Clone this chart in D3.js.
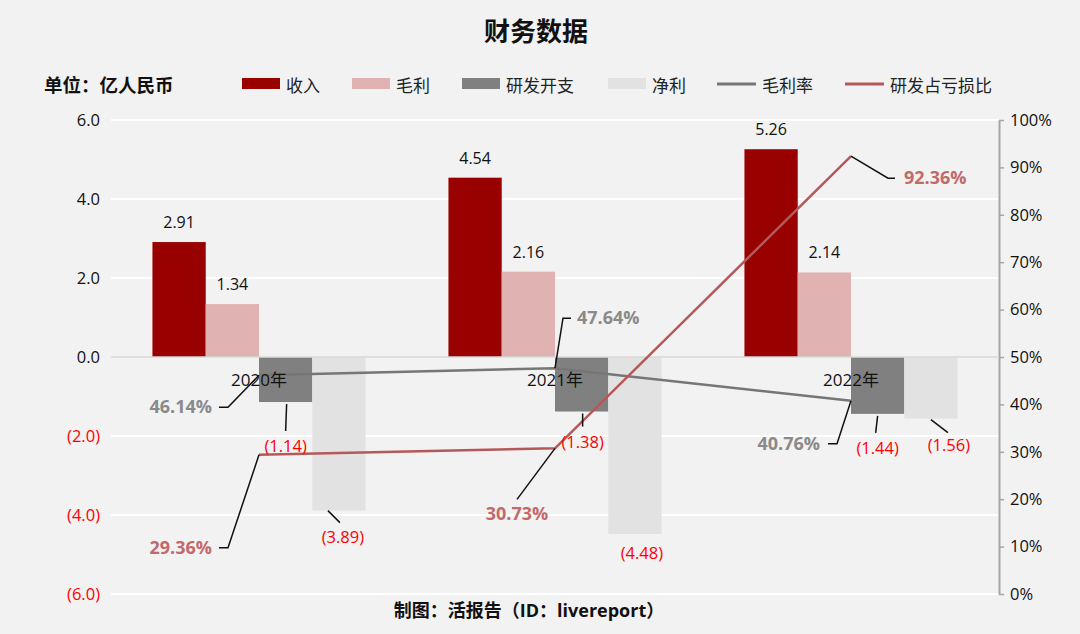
<!DOCTYPE html>
<html><head><meta charset="utf-8">
<script src="https://cdn.jsdelivr.net/npm/d3@7"></script>
<style>
html,body{margin:0;padding:0;background:#f2f2f2;}
svg{display:block;font-family:"Open Sans","Noto Sans CJK SC",sans-serif;}
</style></head>
<body><svg id="chart" width="1080" height="634"></svg>
<script>
// ---- data ----
const categories = ["2020年", "2021年", "2022年"];
const revenue = [2.91, 4.54, 5.26];
const grossProfit = [1.34, 2.16, 2.14];
const rdExpense = [-1.14, -1.38, -1.44];
const netProfit = [-3.89, -4.48, -1.56];
const grossMargin = [0.4614, 0.4764, 0.4076];
const rdLossRatio = [0.2936, 0.3073, 0.9236];
const leftTicks = [-6, -4, -2, 0, 2, 4, 6];
const rightTicks = [0, 0.1, 0.2, 0.3, 0.4, 0.5, 0.6, 0.7, 0.8, 0.9, 1.0];
const seriesNames = ["收入", "毛利", "研发开支", "净利"];
const lineNames = ["毛利率", "研发占亏损比"];

// ---- styles ----
const barColors = ["#990000", "#e0b2b2", "#808080", "#e2e2e2"];
const lineColors = ["#767676", "#b5585a"];
const pctColors = ["#8a8a8a", "#c26a6a"];
const FONT = '"Open Sans","Noto Sans CJK SC",sans-serif';

const svg = d3.select("#chart");
const L = 111, R = 999, T = 120, B = 594;

const x = d3.scaleBand().domain(categories).range([L, R]).paddingInner(0.28).paddingOuter(0.14);
const x1 = d3.scaleBand().domain(seriesNames).range([0, x.bandwidth()]);
const y = d3.scaleLinear().domain([-6, 6]).range([B, T]);
const y2 = d3.scaleLinear().domain([0, 1]).range([B, T]);

// title
svg.append("text").attr("x", 536).attr("y", 41).attr("text-anchor", "middle")
  .attr("font-size", 26).attr("font-weight", "bold").attr("fill", "#111").text("财务数据");

// unit
svg.append("text").attr("x", 44).attr("y", 92).attr("font-size", 18.5).attr("font-weight", "bold")
  .attr("fill", "#111").text("单位：亿人民币");

// legend
const legendX = [242, 352, 462, 608];
seriesNames.forEach((n, i) => {
  svg.append("rect").attr("x", legendX[i]).attr("y", 78).attr("width", 38).attr("height", 11).attr("fill", barColors[i]);
  svg.append("text").attr("x", legendX[i] + 44).attr("y", 92).attr("font-size", 17).attr("fill", "#222").text(n);
});
const legendLX = [717, 845];
lineNames.forEach((n, i) => {
  svg.append("line").attr("x1", legendLX[i]).attr("x2", legendLX[i] + 39).attr("y1", 84).attr("y2", 84)
    .attr("stroke", lineColors[i]).attr("stroke-width", 3);
  svg.append("text").attr("x", legendLX[i] + 45).attr("y", 92).attr("font-size", 17).attr("fill", "#222").text(n);
});

// gridlines
svg.append("g").selectAll("line").data(leftTicks.filter(d => d !== 0)).join("line")
  .attr("x1", L).attr("x2", R).attr("y1", d => y(d)).attr("y2", d => y(d))
  .attr("stroke", "#ffffff").attr("stroke-width", 2);

// left axis labels
const leftAxis = svg.append("g").attr("transform", `translate(${L - 11},0)`)
  .call(d3.axisLeft(y).tickValues(leftTicks).tickSize(0).tickPadding(0)
    .tickFormat(d => d < 0 ? "(" + d3.format(".1f")(-d) + ")" : d3.format(".1f")(d)));
leftAxis.select(".domain").remove();
leftAxis.selectAll("text").attr("font-size", 16.5).attr("font-family", FONT)
  .attr("fill", d => d < 0 ? "#ff0000" : "#111");

// right axis
const rightAxis = svg.append("g").attr("transform", `translate(${R},0)`)
  .call(d3.axisRight(y2).tickValues(rightTicks).tickSize(5).tickPadding(6).tickSizeOuter(0)
    .tickFormat(d3.format(".0%")));
rightAxis.select(".domain").attr("stroke", "#a6a6a6").attr("stroke-width", 2);
rightAxis.selectAll(".tick line").attr("stroke", "#a6a6a6").attr("stroke-width", 1.5);
rightAxis.selectAll("text").attr("font-size", 16.5).attr("font-family", FONT).attr("fill", "#111");

// bars
const allSeries = [revenue, grossProfit, rdExpense, netProfit];
const barG = svg.append("g");
allSeries.forEach((vals, si) => {
  barG.selectAll(null).data(vals).join("rect")
    .attr("x", (d, i) => x(categories[i]) + x1(seriesNames[si]))
    .attr("width", x1.bandwidth())
    .attr("y", d => y(Math.max(0, d)))
    .attr("height", d => Math.abs(y(d) - y(0)))
    .attr("fill", barColors[si]);
});

// zero line
svg.append("line").attr("x1", L).attr("x2", R).attr("y1", y(0)).attr("y2", y(0))
  .attr("stroke", "#d9d9d9").attr("stroke-width", 1.5);

// lines
const cx = c => x(c) + x.bandwidth() / 2;
[grossMargin, rdLossRatio].forEach((vals, li) => {
  svg.append("path").datum(vals)
    .attr("d", d3.line().x((d, i) => cx(categories[i])).y(d => y2(d)))
    .attr("fill", "none").attr("stroke", lineColors[li]).attr("stroke-width", 2.5);
});

// category labels
svg.append("g").selectAll("text").data(categories).join("text")
  .attr("x", d => cx(d)).attr("y", y(0) + 29).attr("text-anchor", "middle")
  .attr("font-size", 17).attr("fill", "#111").text(d => d);

// positive bar labels
[revenue, grossProfit].forEach((vals, si) => {
  svg.append("g").selectAll("text").data(vals).join("text")
    .attr("x", (d, i) => x(categories[i]) + x1(seriesNames[si]) + x1.bandwidth() / 2)
    .attr("y", d => y(d) - 14).attr("text-anchor", "middle")
    .attr("font-size", 16).attr("fill", "#111").text(d => d3.format(".2f")(d));
});

// negative bar labels with leader offsets (layout only)
const negLayout = [
  [[0, 50, [1, 2, 0, 29]], [1, 36, [1, 2, 1, 15]], [0, 40, [0, 2, -2, 19]]],
  [[4, 32, [-11, 0, 1, 12]], [7, 25, null], [18, 32, [0, 1, 17, 14]]]
];
[rdExpense, netProfit].forEach((vals, k) => {
  const si = k + 2;
  vals.forEach((d, i) => {
    const bx = x(categories[i]) + x1(seriesNames[si]) + x1.bandwidth() / 2;
    const by = y(d);
    const lay = negLayout[k][i];
    if (lay[2]) {
      svg.append("line").attr("x1", bx + lay[2][0]).attr("y1", by + lay[2][1])
        .attr("x2", bx + lay[2][2]).attr("y2", by + lay[2][3])
        .attr("stroke", "#111").attr("stroke-width", 1.5);
    }
    svg.append("text").attr("x", bx + lay[0]).attr("y", by + lay[1]).attr("text-anchor", "middle")
      .attr("font-size", 16.5).attr("fill", "#ff0000").text("(" + d3.format(".2f")(-d) + ")");
  });
});

// percent labels with leader lines (layout only)
const pctLayout = [
  [
    {anchor: "end", dx: -47, dy: 38, leader: [[0, 0], [-31, 32], [-40, 32]]},
    {anchor: "start", dx: 22, dy: -44, leader: [[0, 0], [8, -50], [16, -50]]},
    {anchor: "end", dx: -31, dy: 49, leader: [[0, 0], [-14, 43], [-23, 43]]}
  ],
  [
    {anchor: "end", dx: -47, dy: 99, leader: [[0, 0], [-31, 93], [-40, 93]]},
    {anchor: "middle", dx: -38, dy: 72, leader: [[0, 0], [-38, 51]]},
    {anchor: "start", dx: 53, dy: 28, leader: [[0, 0], [37, 22], [44, 22]]}
  ]
];
[grossMargin, rdLossRatio].forEach((vals, li) => {
  vals.forEach((d, i) => {
    const px = cx(categories[i]), py = y2(d);
    const lay = pctLayout[li][i];
    svg.append("path").attr("d", d3.line()(lay.leader.map(p => [px + p[0], py + p[1]])))
      .attr("fill", "none").attr("stroke", "#111").attr("stroke-width", 1.5);
    svg.append("text").attr("x", px + lay.dx).attr("y", py + lay.dy).attr("text-anchor", lay.anchor)
      .attr("font-size", 18).attr("font-weight", "bold").attr("fill", pctColors[li])
      .text(d3.format(".2%")(d));
  });
});

// footer
svg.append("text").attr("x", 529).attr("y", 617).attr("text-anchor", "middle")
  .attr("font-size", 18).attr("font-weight", "bold").attr("fill", "#111").text("制图：活报告（ID：livereport）");
</script></body></html>
